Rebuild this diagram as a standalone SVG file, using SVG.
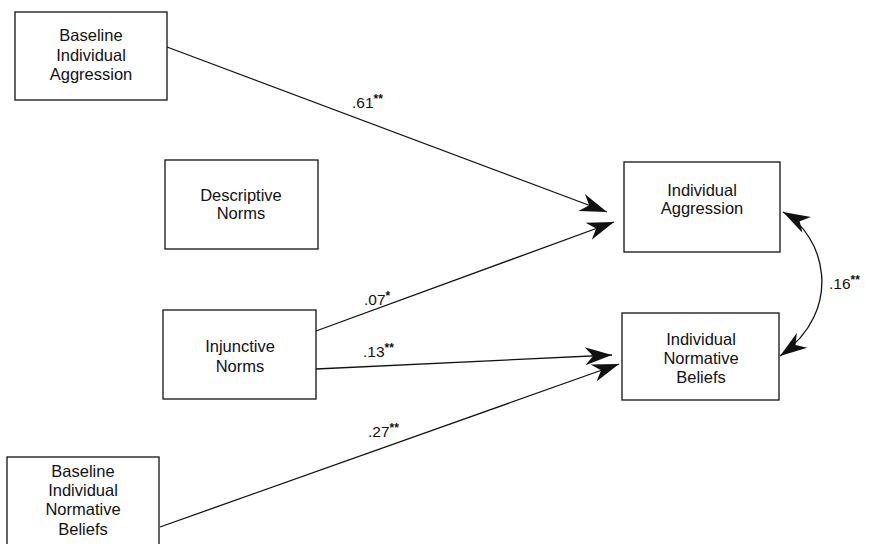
<svg xmlns="http://www.w3.org/2000/svg" width="869" height="544" viewBox="0 0 869 544">
<style>
.box{fill:#fff;stroke:#111;stroke-width:1.3}
.t{font-family:"Liberation Sans",Arial,sans-serif;font-size:16.5px;fill:#111;text-anchor:middle}
.l{font-family:"Liberation Sans",Arial,sans-serif;font-size:15.5px;fill:#111}
.s{font-size:12px;font-weight:bold}
.c{fill:none;stroke:#111;stroke-width:1.3}
</style>
<defs>
<marker id="ah" viewBox="-28 -10 29 20" refX="0" refY="0" markerWidth="29" markerHeight="20" markerUnits="userSpaceOnUse" orient="auto-start-reverse">
<path d="M0,0 L-27,-9 L-19,0 L-27,9 Z" fill="#111"/>
</marker>
</defs>
<rect width="869" height="544" fill="#fff"/>
<g id="connectors">
<line class="c" x1="167" y1="47" x2="607" y2="212" marker-end="url(#ah)"/>
<line class="c" x1="316" y1="331" x2="614" y2="222" marker-end="url(#ah)"/>
<line class="c" x1="316" y1="369" x2="612" y2="355" marker-end="url(#ah)"/>
<line class="c" x1="160" y1="527" x2="619" y2="364" marker-end="url(#ah)"/>
<path class="c" d="M783,212 C825,235 845,310 780,356" marker-start="url(#ah)" marker-end="url(#ah)"/>
<text class="l" x="352" y="108">.61<tspan class="s" dy="-5">**</tspan></text>
<text class="l" x="364" y="305">.07<tspan class="s" dy="-5">*</tspan></text>
<text class="l" x="363" y="357">.13<tspan class="s" dy="-5">**</tspan></text>
<text class="l" x="368" y="437">.27<tspan class="s" dy="-5">**</tspan></text>
<text class="l" x="829" y="289">.16<tspan class="s" dy="-5">**</tspan></text>
</g>
<g id="baseline-aggression">
<rect class="box" x="15" y="12" width="152" height="88"/>
<text class="t" x="91" y="41">Baseline</text>
<text class="t" x="91" y="61">Individual</text>
<text class="t" x="91" y="80">Aggression</text>
</g>
<g id="descriptive-norms">
<rect class="box" x="165" y="160" width="153" height="89"/>
<text class="t" x="241" y="201">Descriptive</text>
<text class="t" x="241" y="219">Norms</text>
</g>
<g id="injunctive-norms">
<rect class="box" x="163" y="310" width="153" height="89"/>
<text class="t" x="240" y="352">Injunctive</text>
<text class="t" x="240" y="372">Norms</text>
</g>
<g id="baseline-beliefs">
<rect class="box" x="7" y="457" width="152" height="95"/>
<text class="t" x="83" y="477">Baseline</text>
<text class="t" x="83" y="496">Individual</text>
<text class="t" x="83" y="515">Normative</text>
<text class="t" x="83" y="535">Beliefs</text>
</g>
<g id="individual-aggression">
<rect class="box" x="624" y="162" width="156" height="90"/>
<text class="t" x="702" y="196">Individual</text>
<text class="t" x="702" y="214">Aggression</text>
</g>
<g id="individual-beliefs">
<rect class="box" x="622" y="313" width="157" height="87"/>
<text class="t" x="701" y="345">Individual</text>
<text class="t" x="701" y="364">Normative</text>
<text class="t" x="701" y="383">Beliefs</text>
</g>
</svg>
